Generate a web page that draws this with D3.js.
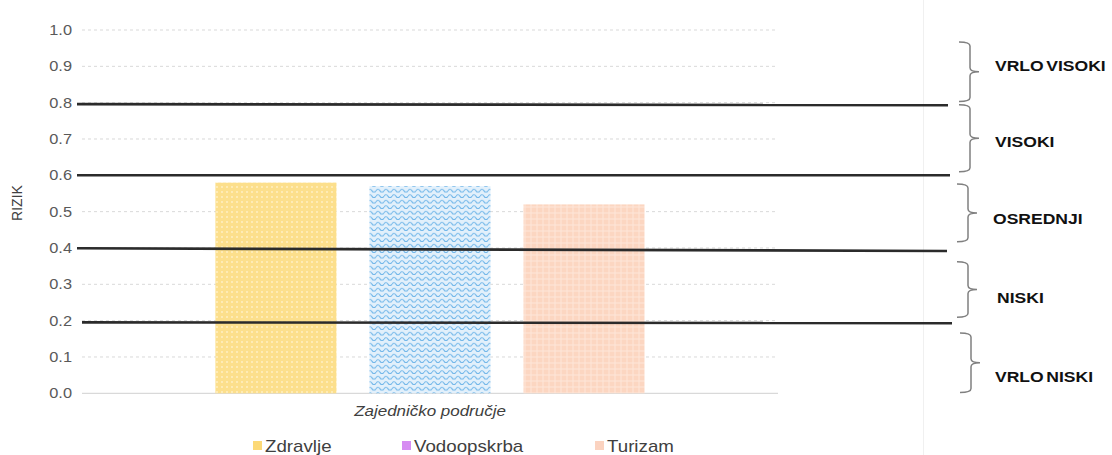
<!DOCTYPE html>
<html><head><meta charset="utf-8">
<script src="https://cdn.jsdelivr.net/npm/d3@7"></script>
<style>html,body{margin:0;padding:0;background:#fff}svg{display:block}text{font-family:"Liberation Sans",Arial,sans-serif}</style>
</head><body><div id="chart"></div>
<script>
const category = ["Zajedničko područje"];
const seriesNames = ["Zdravlje", "Vodoopskrba", "Turizam"];
const seriesValues = [0.58, 0.57, 0.52];
const legendColors = ["#FCD977", "#D68CF2", "#FBD3C0"];
const yTicks = [0, 0.1, 0.2, 0.3, 0.4, 0.5, 0.6, 0.7, 0.8, 0.9, 1.0];
const thresholds = [0.8, 0.6, 0.4, 0.2];
const bandLabels = ["VRLO VISOKI", "VISOKI", "OSREDNJI", "NISKI", "VRLO NISKI"];
const braceTop = [0.967, 0.794, 0.576, 0.362, 0.166];
const braceBottom = [0.803, 0.61, 0.417, 0.209, 0.002];
const labelAt = [0.887, 0.678, 0.466, 0.249, 0.031];
const yTitle = "RIZIK";

const W = 1112, H = 455, SX = 1.17;
const svg = d3.select("#chart").append("svg").attr("width", W).attr("height", H);

const y = d3.scaleLinear().domain([0, 1]).range([393.3, 30]);
const x0 = d3.scaleBand().domain(category).range([82, 778]).paddingInner(0).paddingOuter(0.253);
const x1 = d3.scaleBand().domain(seriesNames).range([0, x0.bandwidth()]).paddingInner(0.214).paddingOuter(0.107);

// patterns
const defs = svg.append("defs");
const p1 = defs.append("pattern").attr("id", "pYellow").attr("patternUnits", "userSpaceOnUse").attr("width", 5).attr("height", 5);
p1.append("rect").attr("width", 5).attr("height", 5).attr("fill", "#FCDF8C");
p1.append("rect").attr("x", 1).attr("y", 1).attr("width", 2).attr("height", 2).attr("fill", "#FEEBB5");
const p2 = defs.append("pattern").attr("id", "pBlue").attr("patternUnits", "userSpaceOnUse").attr("width", 8).attr("height", 5.5);
p2.append("rect").attr("width", 8).attr("height", 5.5).attr("fill", "#E2F0FB");
p2.append("path").attr("d", "M0 3.8 Q2 0.8 4 3.8 T8 3.8").attr("fill", "none").attr("stroke", "#6AB3E8").attr("stroke-width", 1);
const p3 = defs.append("pattern").attr("id", "pSalmon").attr("patternUnits", "userSpaceOnUse").attr("width", 6).attr("height", 6);
p3.append("rect").attr("width", 6).attr("height", 6).attr("fill", "#FCD6C1");
p3.append("path").attr("d", "M0 3 H6 M3 0 V6").attr("stroke", "#FEE6D9").attr("stroke-width", 1);
const fills = ["url(#pYellow)", "url(#pBlue)", "url(#pSalmon)"];

// faint vertical separator
svg.append("line").attr("x1", 923.5).attr("x2", 923.5).attr("y1", 0).attr("y2", H)
  .attr("stroke", "#F0F0F0").attr("stroke-width", 1);

// gridlines
svg.append("g").selectAll("line").data(yTicks).join("line")
  .attr("x1", 82).attr("x2", 778)
  .attr("y1", d => y(d)).attr("y2", d => y(d))
  .attr("stroke", d => d === 0 ? "#D0D0D0" : "#D9D9D9")
  .attr("stroke-width", 1)
  .attr("stroke-dasharray", d => d === 0 ? null : "3,3");

// axis labels
const yAxis = d3.axisLeft(y).tickValues(yTicks).tickFormat(d3.format(".1f")).tickSize(0).tickPadding(10);
const ag = svg.append("g").attr("transform", "translate(82,0)").call(yAxis);
ag.select(".domain").remove();
ag.selectAll("text").attr("font-size", 14).attr("fill", "#595959")
  .attr("font-family", "Liberation Sans, Arial, sans-serif")
  .attr("transform", `scale(${SX},1)`).attr("x", -10 / SX);

// bars
const data = seriesNames.map((n, i) => ({ name: n, value: seriesValues[i], fill: fills[i] }));
svg.append("g").selectAll("rect").data(data).join("rect")
  .attr("x", d => x0(category[0]) + x1(d.name))
  .attr("width", x1.bandwidth())
  .attr("y", d => y(d.value))
  .attr("height", d => y(0) - y(d.value))
  .attr("fill", d => d.fill);

// threshold lines (slightly skewed, as in the original)
const lineLeft = [77, 77, 77, 82];
const lineRight = [948, 950, 947, 952];
const dyLeft = [1.5, 0, 0.3, 1.7];
const dyRight = [2.5, 0, 3, 2.5];
svg.append("g").selectAll("line").data(thresholds).join("line")
  .attr("x1", (d, i) => lineLeft[i]).attr("x2", (d, i) => lineRight[i])
  .attr("y1", (d, i) => y(d) + dyLeft[i]).attr("y2", (d, i) => y(d) + dyRight[i])
  .attr("stroke", "#2B2B2B").attr("stroke-width", 2.6);

// braces
function brace(xs, yt, yb, tipX) {
  const ym = (yt + yb) / 2, k = 4;
  return `M${xs - 11},${yt} Q${xs},${yt} ${xs},${yt + k} L${xs},${ym - k} Q${xs},${ym} ${tipX},${ym}` +
    ` M${tipX},${ym} Q${xs},${ym} ${xs},${ym + k} L${xs},${yb - k} Q${xs},${yb} ${xs - 11},${yb}`;
}
const braceX = [970, 970, 968, 968, 971];
svg.append("g").selectAll("path").data(bandLabels).join("path")
  .attr("d", (d, i) => brace(braceX[i], y(braceTop[i]), y(braceBottom[i]), braceX[i] + 9))
  .attr("fill", "none").attr("stroke", "#808080").attr("stroke-width", 1.5);

const labelX = [995, 995, 993, 997, 995];
svg.append("g").selectAll("text").data(bandLabels).join("text")
  .attr("transform", (d, i) => `translate(${labelX[i]},${y(labelAt[i])}) scale(${SX},1)`)
  .attr("font-size", 15).attr("font-weight", "bold").attr("fill", "#111")
  .attr("word-spacing", -2)
  .text(d => d);

// y title
svg.append("text").attr("transform", "translate(22,203) rotate(-90)")
  .attr("text-anchor", "middle").attr("font-size", 14).attr("fill", "#404040").text(yTitle);

// category label
svg.append("text")
  .attr("transform", `translate(${x0(category[0]) + x0.bandwidth() / 2},416) scale(${SX},1)`)
  .attr("text-anchor", "middle").attr("font-size", 14.5).attr("font-style", "italic").attr("fill", "#404040")
  .text(category[0]);

// legend
const legX = [253, 402, 595];
const lg = svg.append("g").selectAll("g").data(seriesNames).join("g")
  .attr("transform", (d, i) => `translate(${legX[i]},0)`);
lg.append("rect").attr("x", 0).attr("y", 441).attr("width", 9).attr("height", 9)
  .attr("fill", (d, i) => legendColors[i]);
lg.append("text").attr("transform", `translate(12,452) scale(${SX},1)`)
  .attr("font-size", 16).attr("fill", "#404040").text(d => d);
</script></body></html>
